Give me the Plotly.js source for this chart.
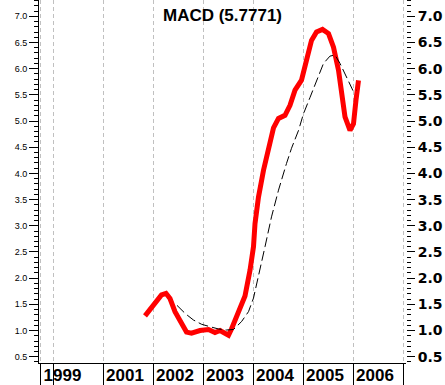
<!DOCTYPE html>
<html>
<head>
<meta charset="utf-8">
<script src="https://cdn.plot.ly/plotly-3.0.1.min.js"></script>
<style>html,body{margin:0;padding:0;background:#fff;}#chart{width:445px;height:385px;}</style>
</head>
<body>
<div id="chart"></div>
<script>
// MACD line (red)
var macdX = [2001.84,2002.04,2002.17,2002.26,2002.34,2002.44,2002.54,2002.67,2002.77,2002.94,2003.11,2003.24,2003.34,2003.51,2003.57,2003.71,2003.84,2003.94,2004.01,2004.04,2004.11,2004.21,2004.31,2004.41,2004.51,2004.64,2004.74,2004.84,2004.97,2005.07,2005.17,2005.27,2005.39,2005.51,2005.61,2005.71,2005.77,2005.84,2005.94,2006.01,2006.06,2006.11];
var macdY = [1.28,1.52,1.68,1.71,1.61,1.36,1.17,0.97,0.95,1.0,1.02,0.96,1.0,0.91,1.03,1.33,1.66,2.15,2.6,3.04,3.55,4.06,4.5,4.87,5.05,5.11,5.3,5.59,5.78,6.16,6.54,6.7,6.75,6.67,6.41,5.97,5.52,5.08,4.82,4.95,5.4,5.7771];
// Signal line (black dashed)
var sigX = [2002.48,2002.65,2002.81,2002.97,2003.15,2003.31,2003.47,2003.61,2003.77,2003.91,2004.01,2004.14,2004.24,2004.37,2004.51,2004.67,2004.77,2004.91,2005.01,2005.14,2005.27,2005.41,2005.54,2005.64,2005.74,2005.87,2006.01,2006.07];
var sigY = [1.48,1.32,1.20,1.12,1.07,1.03,1.01,1.02,1.17,1.36,1.62,2.15,2.6,3.17,3.68,4.19,4.48,4.82,5.14,5.45,5.78,6.10,6.24,6.26,6.10,5.84,5.56,5.59];
// X tick positions and labels
var xTickVals = [1999.75,2000,2001,2002,2003,2004,2005,2006,2007];
var xTickText = ['1999','','2001','2002','2003','2004','2005','2006',''];
var titleText = 'MACD (5.7771)';

var yRange = [0.38, 7.311];

var traces = [
  {x: sigX, y: sigY, type: 'scatter', mode: 'lines', yaxis: 'y2',
   line: {color: '#000000', width: 1, dash: '10px,4px'}, hoverinfo: 'skip'},
  {x: macdX, y: macdY, type: 'scatter', mode: 'lines',
   line: {color: '#ff0000', width: 5}, hoverinfo: 'skip'}
];

var layout = {
  width: 445, height: 385,
  margin: {l: 39, r: 39, t: 0, b: 22, pad: 0},
  paper_bgcolor: '#ffffff', plot_bgcolor: '#ffffff',
  showlegend: false,
  title: {text: titleText, x: 222.5/445, xanchor: 'center', xref: 'paper',
          y: 1 - 15/385, yanchor: 'middle', yref: 'container',
          font: {family: 'Liberation Sans, Arial', size: 17, color: '#000', weight: 'bold'}},
  xaxis: {
    range: [1999.72, 2007.06], fixedrange: true,
    tickmode: 'array', tickvals: xTickVals, ticktext: xTickText,
    ticks: 'outside', ticklen: 22, tickwidth: 1, tickcolor: '#000',
    ticklabelshift: 22, ticklabelstandoff: -25,
    showline: true, linecolor: '#000', linewidth: 1,
    showgrid: true, gridcolor: '#c0c0c0', gridwidth: 1, griddash: '4px,3px',
    zeroline: false,
    tickfont: {family: 'Liberation Sans, Arial', size: 17, color: '#000', weight: 'bold'}
  },
  yaxis: {
    range: yRange, fixedrange: true,
    tick0: 0.5, dtick: 0.5, tickformat: '.1f',
    ticks: 'outside', ticklen: 9, tickwidth: 1, tickcolor: '#000',
    minor: {dtick: 0.1, ticks: 'outside', ticklen: 4, tickwidth: 1, tickcolor: '#000', showgrid: false},
    showline: true, linecolor: '#000', linewidth: 1,
    showgrid: false, zeroline: false,
    tickfont: {family: 'Liberation Sans, Arial', size: 9, color: '#000'}
  },
  yaxis2: {
    range: yRange, fixedrange: true, overlaying: 'y', side: 'right', anchor: 'x',
    tick0: 0.5, dtick: 0.5, tickformat: '.1f',
    ticks: 'outside', ticklen: 8, tickwidth: 1, tickcolor: '#000',
    minor: {dtick: 0.1, ticks: 'outside', ticklen: 4, tickwidth: 1, tickcolor: '#000', showgrid: false},
    showline: false, showgrid: false, zeroline: false,
    tickfont: {family: 'DejaVu Sans', size: 14, color: '#000', weight: 'bold'}
  }
};

Plotly.newPlot('chart', traces, layout, {staticPlot: true, displayModeBar: false});
</script>
</body>
</html>
